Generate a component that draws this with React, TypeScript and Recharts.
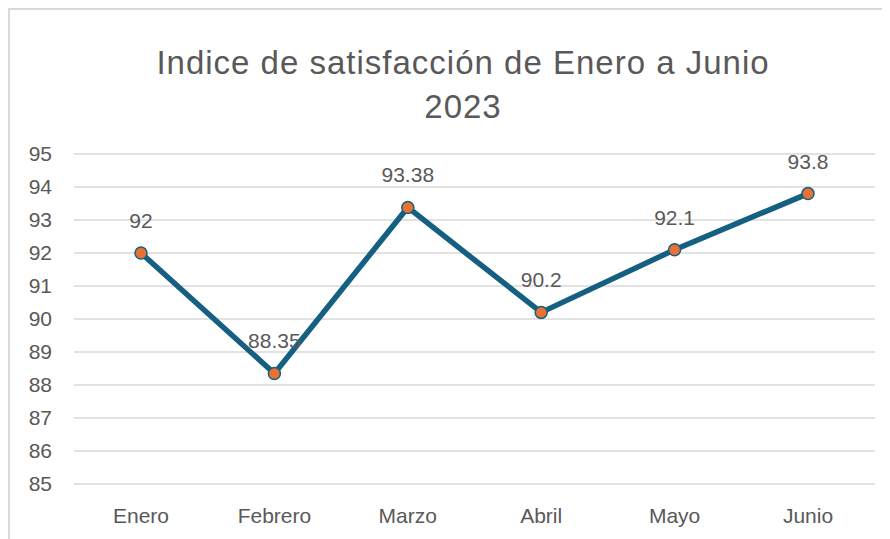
import { LineChart, Line, XAxis, YAxis, CartesianGrid, LabelList } from 'recharts'

const meses = ['Enero', 'Febrero', 'Marzo', 'Abril', 'Mayo', 'Junio']
const indice = [92, 88.35, 93.38, 90.2, 92.1, 93.8]
const yTicks = [85, 86, 87, 88, 89, 90, 91, 92, 93, 94, 95]

const data = meses.map((mes, i) => ({ mes, indice: indice[i] }))

const FONT = '"Liberation Sans", Arial, sans-serif'
const TEXT = '#595959'

export default function App() {
  return (
    <div
      style={{
        position: 'relative',
        width: 880,
        height: 529,
        borderTop: '2px solid #D9D9D9',
        borderLeft: '2px solid #D9D9D9',
        background: '#fff',
        fontFamily: FONT,
      }}
    >
      <div
        style={{
          position: 'absolute',
          left: 0,
          top: 31,
          width: 906,
          textAlign: 'center',
          fontSize: 33,
          letterSpacing: 1,
          lineHeight: '44px',
          color: TEXT,
        }}
      >
        Indice de satisfacción de Enero a Junio
        <br />
        2023
      </div>
      <LineChart
        width={880}
        height={529}
        data={data}
        margin={{ top: 144, right: 15, bottom: 0, left: 0 }}
      >
        <CartesianGrid vertical={false} stroke="#D9D9D9" strokeWidth={1.5} />
        <XAxis
          dataKey="mes"
          axisLine={false}
          tickLine={false}
          tickSize={0}
          tickMargin={24}
          height={55}
          padding={{ left: 67, right: 67 }}
          tick={{ fill: TEXT, fontSize: 21, fontFamily: FONT }}
        />
        <YAxis
          domain={[85, 95]}
          ticks={yTicks}
          axisLine={false}
          tickLine={false}
          tickSize={0}
          tickMargin={22}
          width={64}
          tick={{ fill: TEXT, fontSize: 21, fontFamily: FONT }}
        />
        <Line
          type="linear"
          dataKey="indice"
          stroke="#156082"
          strokeWidth={5.5}
          dot={{ r: 6, fill: '#E97132', stroke: '#156082', strokeWidth: 1.5 }}
          activeDot={false}
          isAnimationActive={false}
        >
          <LabelList
            dataKey="indice"
            position="top"
            offset={25}
            fill={TEXT}
            fontSize={21}
            fontFamily={FONT}
          />
        </Line>
      </LineChart>
    </div>
  )
}
